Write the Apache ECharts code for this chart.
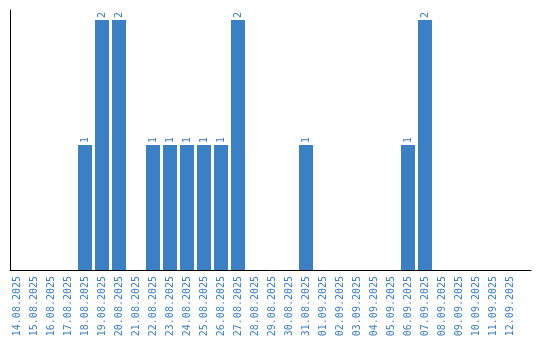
<!DOCTYPE html>
<html>
<head>
<meta charset="utf-8">
<script src="https://cdn.jsdelivr.net/npm/echarts@6/dist/echarts.min.js"></script>
<style>html,body{margin:0;padding:0;background:#fff;}#c{width:540px;height:340px;}</style>
</head>
<body>
<div id="c"></div>
<script>
var categories = ["14.08.2025","15.08.2025","16.08.2025","17.08.2025","18.08.2025","19.08.2025","20.08.2025","21.08.2025","22.08.2025","23.08.2025","24.08.2025","25.08.2025","26.08.2025","27.08.2025","28.08.2025","29.08.2025","30.08.2025","31.08.2025","01.09.2025","02.09.2025","03.09.2025","04.09.2025","05.09.2025","06.09.2025","07.09.2025","08.09.2025","09.09.2025","10.09.2025","11.09.2025","12.09.2025"];
var counts = [0,0,0,0,1,2,2,0,1,1,1,1,1,2,0,0,0,1,0,0,0,0,0,1,2,0,0,0,0,0];

var blue = '#3b7fc4';
var chart = echarts.init(document.getElementById('c'), null, {renderer: 'canvas'});
var idx = categories.map(function(_, i){ return i; });
chart.setOption({
  animation: false,
  grid: {left: 10, right: 9, top: 10, bottom: 70},
  xAxis: {
    type: 'value',
    min: -7/17,
    max: 514/17,
    splitLine: {show: false},
    axisTick: {show: false},
    axisLine: {show: true, onZero: false, lineStyle: {color: '#000', width: 1}},
    axisLabel: {
      customValues: idx,
      rotate: 90,
      margin: 6,
      fontSize: 10,
      fontFamily: 'DejaVu Sans Mono',
      color: blue,
      formatter: function(v){ return categories[Math.round(v)] || ''; }
    }
  },
  yAxis: {
    type: 'value',
    min: 0,
    max: 2.08,
    splitLine: {show: false},
    axisTick: {show: false},
    axisLabel: {show: false},
    axisLine: {show: true, onZero: false, lineStyle: {color: '#000', width: 1}}
  },
  series: [{
    type: 'bar',
    barWidth: 14,
    itemStyle: {color: blue},
    data: counts.map(function(v, i){ return [i, v]; }),
    label: {
      show: true,
      position: 'top',
      distance: 2,
      rotate: 90,
      align: 'left',
      verticalAlign: 'middle',
      fontSize: 10,
      fontFamily: 'DejaVu Sans Mono',
      color: blue,
      formatter: function(p){ return p.value[1] ? String(p.value[1]) : ''; }
    }
  }]
});
</script>
</body>
</html>
